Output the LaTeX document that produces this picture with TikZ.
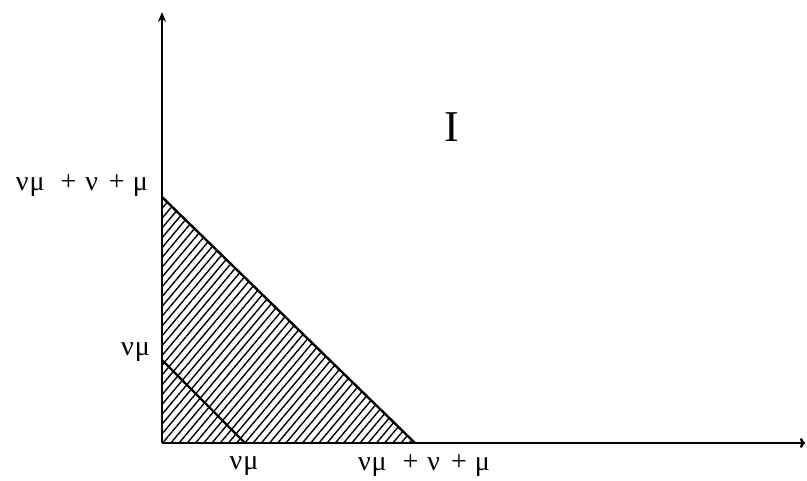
\documentclass[tikz,border=0pt]{standalone}
\usepackage{fontspec}
\setmainfont{Liberation Serif}
\usetikzlibrary{arrows.meta,patterns.meta}
\tikzset{
  axis/.style={line width=2.4pt},
  edge/.style={line width=2.4pt},
  lbl/.style={font=\fontsize{28}{32}\selectfont, inner sep=0pt},
  hatch/.style={pattern={Lines[angle=50,distance=6.3pt,line width=1.4pt]}},
}
\newcommand{\sumlbl}{ν\hspace{1pt}μ\hspace{16pt}+\hspace{9pt}ν\hspace{11pt}+\hspace{8pt}μ}
\begin{document}
\begin{tikzpicture}[x=1pt,y=-1pt]
\useasboundingbox (0,0) rectangle (807,480);
\coordinate (O) at (162,443);
\coordinate (ytip) at (162,12);
\coordinate (xtip) at (805,443);
\coordinate (A) at (162,197);
\coordinate (B) at (415,443);
\coordinate (C) at (162,360);
\coordinate (D) at (245,443);
% hatched region
\fill[hatch] (O) -- (A) -- (B) -- cycle;
% axes
\draw[axis,-{Stealth[length=10pt,width=8pt]}] (O) -- (ytip);
\draw[axis,-{To[length=5pt,width=10pt]}] (O) -- (xtip);
% edges
\draw[edge] (A) -- (B);
\draw[edge] (C) -- (D);
% labels
\node[lbl,anchor=east] (ly1) at (148,186) {\sumlbl};
\node[lbl,anchor=east] (ly2) at (150,352) {ν\hspace{1pt}μ};
\node[lbl] (lx1) at (244,466) {ν\hspace{1pt}μ};
\node[lbl] (lx2) at (424,466) {\sumlbl};
\node[font=\fontsize{44}{48}\selectfont, inner sep=0pt] (reg) at (452,127) {I};
\end{tikzpicture}
\end{document}
